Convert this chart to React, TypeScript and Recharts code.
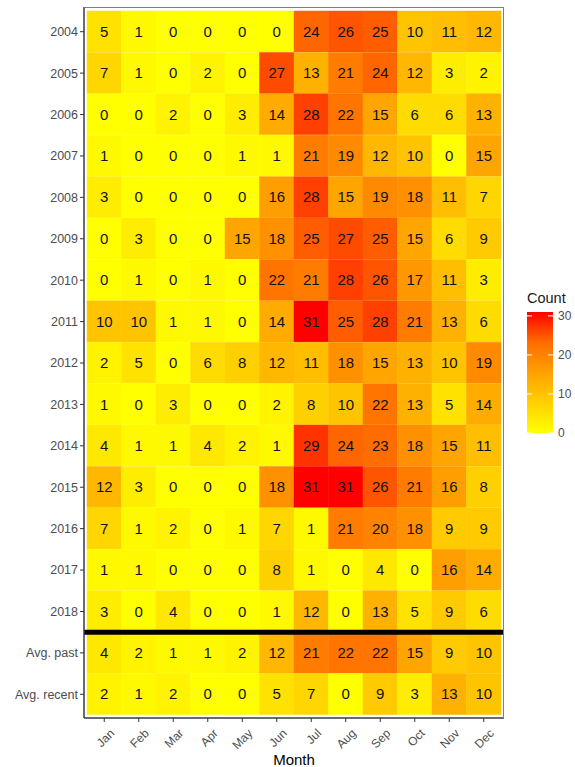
import React from "react";
import {
  BarChart,
  Bar,
  XAxis,
  YAxis,
  Cell,
  LabelList,
  ReferenceLine,
  Legend,
} from "recharts";

const months = ["Jan", "Feb", "Mar", "Apr", "May", "Jun", "Jul", "Aug", "Sep", "Oct", "Nov", "Dec"];
const rowLabels = [
  "2004", "2005", "2006", "2007", "2008", "2009", "2010", "2011", "2012",
  "2013", "2014", "2015", "2016", "2017", "2018", "Avg. past", "Avg. recent",
];
const counts = [
  [5, 1, 0, 0, 0, 0, 24, 26, 25, 10, 11, 12],
  [7, 1, 0, 2, 0, 27, 13, 21, 24, 12, 3, 2],
  [0, 0, 2, 0, 3, 14, 28, 22, 15, 6, 6, 13],
  [1, 0, 0, 0, 1, 1, 21, 19, 12, 10, 0, 15],
  [3, 0, 0, 0, 0, 16, 28, 15, 19, 18, 11, 7],
  [0, 3, 0, 0, 15, 18, 25, 27, 25, 15, 6, 9],
  [0, 1, 0, 1, 0, 22, 21, 28, 26, 17, 11, 3],
  [10, 10, 1, 1, 0, 14, 31, 25, 28, 21, 13, 6],
  [2, 5, 0, 6, 8, 12, 11, 18, 15, 13, 10, 19],
  [1, 0, 3, 0, 0, 2, 8, 10, 22, 13, 5, 14],
  [4, 1, 1, 4, 2, 1, 29, 24, 23, 18, 15, 11],
  [12, 3, 0, 0, 0, 18, 31, 31, 26, 21, 16, 8],
  [7, 1, 2, 0, 1, 7, 1, 21, 20, 18, 9, 9],
  [1, 1, 0, 0, 0, 8, 1, 0, 4, 0, 16, 14],
  [3, 0, 4, 0, 0, 1, 12, 0, 13, 5, 9, 6],
  [4, 2, 1, 1, 2, 12, 21, 22, 22, 15, 9, 10],
  [2, 1, 2, 0, 0, 5, 7, 0, 9, 3, 13, 10],
];
const legendTicks = [0, 10, 20, 30];
const countMax = 31;
const lastYear = "2018";

const FONT = "'Liberation Sans', Arial, sans-serif";

// yellow -> red gradient interpolated in Lab, like ggplot's scale_fill_gradient
const lin = (c: number) => {
  c /= 255;
  return c <= 0.04045 ? c / 12.92 : Math.pow((c + 0.055) / 1.055, 2.4);
};
const unlin = (c: number) => {
  const v = c <= 0.0031308 ? 12.92 * c : 1.055 * Math.pow(c, 1 / 2.4) - 0.055;
  return Math.round(Math.max(0, Math.min(1, v)) * 255);
};
function toLab([r, g, b]: number[]) {
  const R = lin(r), G = lin(g), B = lin(b);
  const x = (0.4124 * R + 0.3576 * G + 0.1805 * B) / 0.95047;
  const y = 0.2126 * R + 0.7152 * G + 0.0722 * B;
  const z = (0.0193 * R + 0.1192 * G + 0.9505 * B) / 1.08883;
  const f = (t: number) => (t > 0.008856 ? Math.cbrt(t) : 7.787 * t + 16 / 116);
  const fx = f(x), fy = f(y), fz = f(z);
  return [116 * fy - 16, 500 * (fx - fy), 200 * (fy - fz)];
}
function fromLab([L, a, bb]: number[]) {
  const fy = (L + 16) / 116;
  const fx = fy + a / 500;
  const fz = fy - bb / 200;
  const inv = (t: number) => (t * t * t > 0.008856 ? t * t * t : (t - 16 / 116) / 7.787);
  const x = inv(fx) * 0.95047, y = inv(fy), z = inv(fz) * 1.08883;
  const R = 3.2406 * x - 1.5372 * y - 0.4986 * z;
  const G = -0.9689 * x + 1.8758 * y + 0.0415 * z;
  const B = 0.0557 * x - 0.204 * y + 1.057 * z;
  return `rgb(${unlin(R)},${unlin(G)},${unlin(B)})`;
}
const lowLab = toLab([255, 255, 0]);
const highLab = toLab([255, 0, 0]);
function fillFor(v: number) {
  const t = Math.max(0, Math.min(1, v / countMax));
  return fromLab(lowLab.map((l, i) => l + (highLab[i] - l) * t));
}

const data = rowLabels.map((row, i) => {
  const d: any = { row };
  months.forEach((_, j) => {
    d[`m${j}`] = 1;
    d[`v${j}`] = counts[i][j];
  });
  return d;
});

const MonthTick = ({ x, y, payload }: any) => (
  <g transform={`translate(${x + 5},${y + 4})`}>
    <text
      x={0}
      y={0}
      dy="0.7em"
      textAnchor="end"
      transform="rotate(-45)"
      fontSize={12}
      fill="#4d4d4d"
      fontFamily={FONT}
    >
      {months[Math.floor(payload.value)]}
    </text>
  </g>
);

const ColorBar = () => {
  const barTop = 27;
  const barH = 121;
  const ys = (v: number) => barTop + barH - (v / countMax) * barH;
  return (
    <svg width={65} height={160} style={{ display: "block" }}>
      <defs>
        <linearGradient id="countGrad" x1="0" y1="1" x2="0" y2="0">
          {[0, 0.25, 0.5, 0.75, 1].map((t) => (
            <stop key={t} offset={t} stopColor={fillFor(t * countMax)} />
          ))}
        </linearGradient>
      </defs>
      <text x={17} y={18} fontSize={14.5} fill="#1a1a1a" fontFamily={FONT}>
        Count
      </text>
      <rect x={17} y={barTop} width={26} height={barH} fill="url(#countGrad)" />
      {legendTicks.map((v) => (
        <g key={v}>
          <line x1={17} x2={22} y1={ys(v)} y2={ys(v)} stroke="#fff" />
          <line x1={38} x2={43} y1={ys(v)} y2={ys(v)} stroke="#fff" />
          <text x={48} y={ys(v)} dy="0.35em" fontSize={12} fill="#4d4d4d" fontFamily={FONT}>
            {v}
          </text>
        </g>
      ))}
    </svg>
  );
};

export default function App() {
  return (
    <div style={{ position: "absolute", left: 0, top: 0, background: "#fff" }}>
      <BarChart
        width={575}
        height={767}
        data={data}
        layout="vertical"
        barCategoryGap={0}
        margin={{ top: 7, right: 71, bottom: 0, left: 0 }}
      >
        <XAxis
          type="number"
          domain={[0, 12]}
          ticks={months.map((_, j) => j + 0.5)}
          padding={{ left: 3, right: 3 }}
          height={49}
          tick={<MonthTick />}
          tickSize={4}
          tickLine={{ stroke: "#333" }}
          axisLine={{ stroke: "#333a4a", strokeWidth: 1.5 }}
          interval={0}
          label={{ value: "Month", position: "insideBottom", offset: 2, fontSize: 15, fill: "#000", fontFamily: FONT }}
        />
        <YAxis
          type="category"
          dataKey="row"
          width={84}
          padding={{ top: 4, bottom: 3 }}
          tickSize={4}
          interval={0}
          tick={{ fontSize: 12.5, fill: "#4d4d4d", fontFamily: FONT }}
          tickLine={{ stroke: "#333" }}
          axisLine={{ stroke: "#333a4a", strokeWidth: 1.5 }}
        />
        {months.map((m, j) => (
          <Bar key={m} dataKey={`m${j}`} stackId="tiles" isAnimationActive={false}>
            {counts.map((row, i) => (
              <Cell key={i} fill={fillFor(row[j])} stroke={fillFor(row[j])} strokeWidth={0.5} />
            ))}
            <LabelList
              dataKey={`v${j}`}
              position="center"
              fill="#111"
              fontSize={15}
              fontFamily={FONT}
            />
          </Bar>
        ))}
        <ReferenceLine y={lastYear} position="end" stroke="#000" strokeWidth={5} />
        <Legend
          layout="horizontal"
          verticalAlign="middle"
          align="center"
          wrapperStyle={{ left: 510, top: 285, width: 65, height: 160 }}
          content={() => <ColorBar />}
        />
      </BarChart>
      {/* thin panel border on top and right */}
      <div
        style={{
          position: "absolute",
          left: 84,
          top: 7,
          width: 420,
          height: 711,
          borderTop: "1px solid #7a7f8c",
          borderRight: "1px solid #7a7f8c",
          boxSizing: "border-box",
          pointerEvents: "none",
        }}
      />
    </div>
  );
}
